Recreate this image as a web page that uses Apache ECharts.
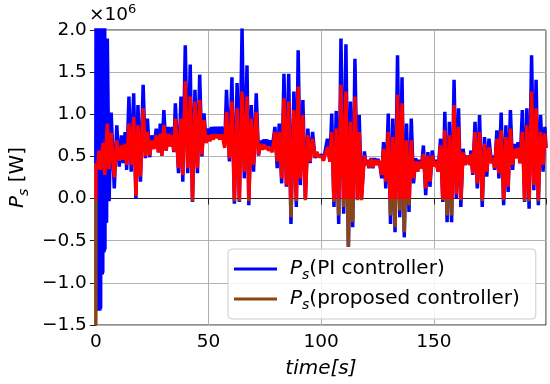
<!DOCTYPE html>
<html>
<head>
<meta charset="utf-8">
<script src="https://cdn.jsdelivr.net/npm/echarts@6/dist/echarts.min.js"></script>
<style>
html,body{margin:0;padding:0;background:#fff;}
#chart{width:550px;height:384px;}
</style>
</head>
<body>
<div id="chart"></div>
<script>
// values in units of 1e6 W
// initial transient of the PI controller (dense oscillation)
const tInitBlue = [0.00,0.10,0.22,0.34,0.46,0.58,0.70,0.82,0.94,1.06,1.18,1.30,1.42,1.54,1.66,1.78,1.90,2.02,2.14,2.26,
  2.38,2.50,2.62,2.74,2.86,2.98,3.10,3.22,3.34,3.46,3.58,3.70,3.82,3.94,4.06,4.18,4.30,4.42,4.54,4.66,4.78];
const blueInit = [0.40,2.30,-1.00,2.40,-1.33,2.40,-1.33,2.40,-1.33,2.40,-1.33,2.40,-1.33,2.40,-1.33,2.40,-1.32,2.40,-1.30,2.40,
  -0.90,2.40,-0.90,2.30,-0.90,2.30,-0.88,2.20,-0.64,2.20,-0.64,2.10,-0.62,2.05,-0.60,1.43,-0.29,1.43,-0.29,1.40,-0.28];
const tInitRed = [0.00,0.05,0.70,1.40,2.10,3.20,4.00];
const redInit = [-1.50,0.42,0.35,0.57,0.34,0.66,0.28];

// shared extreme points after the transient
const tExt = [
  5.1,5.9,6.8,8.2,9.3,10.4,11.4,12.2,13.0,13.7,
  14.7,15.7,16.8,17.8,18.7,19.8,21.0,22.0,22.9,23.9,
  24.8,25.8,26.8,27.8,28.6,29.3,30.2,31.2,32.2,33.0,
  33.9,34.6,35.3,36.7,37.8,38.6,39.7,40.8,41.9,42.9,
  44.0,45.1,46.1,47.1,48.0,48.9,49.9,50.6,51.3,52.1,
  52.8,53.5,54.2,55.0,55.7,56.4,57.2,58.0,59.3,60.4,
  61.5,62.7,63.7,64.9,65.9,67.1,67.9,69.0,70.0,71.2,
  72.2,73.2,73.8,74.5,75.2,76.0,76.7,77.5,78.3,79.5,
  80.5,81.4,82.5,83.5,84.6,85.6,86.6,87.9,89.0,89.8,
  90.8,91.9,93.0,94.1,95.1,96.2,97.3,98.0,98.9,100.3,
  101.0,101.8,102.8,103.9,104.7,105.7,106.7,107.8,108.8,110.0,
  111.0,112.1,113.0,114.0,115.0,116.1,116.9,117.9,119.2,119.9,
  120.5,121.2,122.2,123.0,123.7,124.5,125.1,126.0,126.9,127.7,
  128.7,129.8,130.8,131.8,132.8,133.9,134.9,135.9,136.9,137.9,
  139.0,140.0,141.0,142.0,142.8,143.6,144.5,145.4,146.4,147.4,
  148.3,149.3,150.2,151.1,151.9,153.0,154.0,154.9,155.9,156.9,
  157.9,159.0,160.0,161.0,162.0,163.0,163.9,164.9,165.9,166.5,
  167.3,168.3,169.3,170.3,171.5,172.5,173.5,174.5,175.6,176.4,
  177.0,178.0,178.9,179.9,181.0,182.0,183.0,184.0,185.0,185.8,
  186.5,187.4,188.3,189.3,190.3,191.3,192.3,193.4,194.4,195.4,
  196.4,197.4,198.5,199.3,199.8];
const blueExt = [
  1.90,-0.03,1.02,0.12,0.87,0.38,0.75,0.42,0.79,0.34,
  1.21,0.32,1.25,0.00,1.11,0.20,1.35,0.48,0.95,0.49,
  0.75,0.59,0.83,0.55,0.89,0.51,1.05,0.57,0.85,0.62,
  0.85,0.55,1.13,0.30,1.21,0.20,1.82,0.30,1.59,-0.04,
  1.29,0.30,1.47,0.50,1.01,0.69,0.83,0.71,0.85,0.75,
  0.85,0.77,0.85,0.75,0.85,0.80,0.63,1.29,0.44,1.44,
  -0.06,1.37,-0.04,2.02,0.24,1.58,-0.08,1.11,0.32,1.25,
  0.51,0.69,0.62,0.70,0.63,0.70,0.62,0.69,0.60,0.85,
  0.36,0.89,0.18,1.48,0.14,1.48,-0.30,1.27,-0.10,1.76,
  0.16,1.17,0.00,0.83,0.42,0.79,0.48,0.55,0.50,0.52,
  0.45,0.44,0.71,0.44,1.01,-0.10,1.04,-0.30,1.90,-0.18,
  1.83,-0.57,1.15,-0.34,1.66,0.00,0.99,0.00,0.56,0.40,
  0.46,0.36,0.48,0.36,0.48,0.40,0.47,0.42,0.24,0.67,
  0.12,1.01,-0.30,0.95,-0.40,1.70,-0.22,1.44,-0.46,0.89,
  -0.16,0.95,0.18,0.48,0.32,0.46,0.36,0.63,0.04,0.55,
  0.14,0.57,0.38,0.46,0.32,0.71,-0.04,1.03,-0.28,0.91,
  -0.28,1.41,0.00,1.07,-0.10,0.59,0.40,0.51,0.40,0.57,
  0.28,0.91,0.12,0.99,-0.10,0.73,0.26,0.71,0.42,0.51,
  0.34,0.81,0.24,1.02,-0.08,0.87,0.08,1.05,0.34,0.65,
  0.48,0.67,0.42,1.05,-0.04,1.07,-0.12,1.70,0.10,1.41,
  -0.08,0.99,0.32,0.85,0.60];
const redExt = [
  0.89,0.35,0.78,0.25,0.69,0.45,0.63,0.46,0.65,0.40,
  0.89,0.40,0.97,0.03,0.87,0.26,1.07,0.50,0.79,0.51,
  0.69,0.59,0.75,0.55,0.77,0.51,0.87,0.57,0.77,0.62,
  0.75,0.56,0.95,0.36,0.95,0.28,1.39,0.36,1.21,-0.03,
  1.15,0.36,1.17,0.52,0.93,0.66,0.75,0.68,0.76,0.70,
  0.76,0.72,0.76,0.70,0.76,0.72,0.60,1.03,0.48,1.15,
  -0.03,1.07,-0.03,1.27,0.32,1.21,-0.03,0.95,0.40,1.03,
  0.52,0.65,0.58,0.64,0.59,0.62,0.57,0.60,0.55,0.79,
  0.44,0.79,0.24,1.19,0.16,1.15,-0.22,1.05,-0.03,1.33,
  0.24,0.99,-0.02,0.75,0.44,0.71,0.49,0.55,0.50,0.50,
  0.45,0.44,0.61,0.44,0.79,-0.04,0.83,-0.20,1.35,-0.10,
  1.27,-0.57,0.91,-0.28,1.21,-0.02,0.79,-0.02,0.51,0.40,
  0.45,0.37,0.47,0.37,0.46,0.40,0.45,0.42,0.28,0.59,
  0.20,0.79,-0.20,0.73,-0.34,1.23,-0.14,1.13,-0.40,0.69,
  -0.08,0.69,0.24,0.44,0.32,0.44,0.36,0.53,0.12,0.51,
  0.20,0.51,0.38,0.44,0.32,0.63,-0.02,0.81,-0.20,0.75,
  -0.20,1.11,0.05,0.85,-0.02,0.55,0.40,0.50,0.40,0.53,
  0.30,0.79,0.18,0.79,-0.03,0.65,0.32,0.61,0.42,0.48,
  0.36,0.71,0.30,0.81,-0.02,0.73,0.14,0.83,0.40,0.59,
  0.48,0.60,0.42,0.79,-0.03,0.87,-0.03,1.27,0.16,1.07,
  -0.03,0.79,0.40,0.77,0.60];

const xTicks = [0,50,100,150];
const seriesNames = ['PI controller','proposed controller'];

const BLUE = '#0000ff', RED = '#ff0000', BROWN = '#8b4513';
const FONT = 'DejaVu Sans';

const blueData = tInitBlue.map((t,i)=>[t, blueInit[i]]).concat(tExt.map((t,i)=>[t, blueExt[i]]));
const redData = tInitRed.map((t,i)=>[t, redInit[i]]).concat(tExt.map((t,i)=>[t, redExt[i]]));

const richPs = {
  p:{fontFamily:FONT,fontStyle:'italic',fontSize:20,lineHeight:26,color:'#000'},
  s:{fontFamily:FONT,fontStyle:'italic',fontSize:14,lineHeight:10,verticalAlign:'bottom',color:'#000'},
  t:{fontFamily:FONT,fontSize:20,lineHeight:26,color:'#000'}
};

const chart = echarts.init(document.getElementById('chart'), null, {renderer:'canvas'});
const option = {
  animation:false,
  backgroundColor:'#fff',
  grid:{left:89,right:4,top:30,bottom:58,show:true,borderColor:'#222',borderWidth:1,backgroundColor:'transparent'},
  xAxis:{
    type:'value',min:0,max:199.8,interval:50,
    name:'time[s]',nameLocation:'middle',nameGap:34,
    nameTextStyle:{fontFamily:FONT,fontStyle:'italic',fontSize:20,color:'#000'},
    axisLine:{show:true,lineStyle:{color:'#222',width:1}},
    axisTick:{show:true,length:6,lineStyle:{color:'#222'}},
    axisLabel:{fontFamily:FONT,fontSize:18.5,color:'#000',margin:8,
      formatter:v=> (xTicks.indexOf(v)>=0 ? String(v) : '')},
    splitLine:{show:true,lineStyle:{color:'#b0b0b0',width:1}}
  },
  yAxis:{
    type:'value',min:-1.5,max:2.0,interval:0.5,
    name:'{p|P}{s|s}{t| [W]}',nameLocation:'middle',nameGap:62,nameRotate:90,
    nameTextStyle:{rich:richPs},
    axisLine:{show:true,lineStyle:{color:'#222',width:1}},
    axisTick:{show:true,length:6,lineStyle:{color:'#222'}},
    axisLabel:{fontFamily:FONT,fontSize:18.5,color:'#000',margin:9,
      formatter:v=>(v<0?'\u2212':'')+Math.abs(v).toFixed(1)},
    splitLine:{show:true,lineStyle:{color:'#b0b0b0',width:1}}
  },
  legend:{
    orient:'vertical',left:228,top:249,
    backgroundColor:'rgba(255,255,255,0.85)',borderColor:'#cccccc',borderWidth:1,borderRadius:4,
    padding:[10,16,7,6],itemGap:7,itemWidth:43,itemHeight:3,icon:'rect',
    data:[{name:seriesNames[0],itemStyle:{color:BLUE}},{name:seriesNames[1],itemStyle:{color:BROWN}}],
    formatter:n=>'{p|P}{s|s}{t|('+n+')}',
    textStyle:{padding:[0,0,0,8],rich:richPs}
  },
  graphic:[{
    type:'text',left:89,top:3,
    style:{text:'{a|\u00d710}{b|6}',rich:{
      a:{fontFamily:FONT,fontSize:18.5,lineHeight:24,color:'#000'},
      b:{fontFamily:FONT,fontSize:13,lineHeight:14,verticalAlign:'top',color:'#000'}}}
  }],
  series:[
    {name:seriesNames[0],type:'line',data:blueData,symbol:'none',
      lineStyle:{color:BLUE,width:3.5},itemStyle:{color:BLUE},z:2},
    {name:seriesNames[1],type:'line',data:redData,symbol:'none',
      lineStyle:{color:RED,width:3.5},itemStyle:{color:BROWN},z:3}
  ]
};
chart.setOption(option);
// colour the proposed-controller line brown below zero, red above
const yTop = chart.convertToPixel({yAxisIndex:0}, 2.0);
const yBot = chart.convertToPixel({yAxisIndex:0}, -1.5);
const yZero = chart.convertToPixel({yAxisIndex:0}, 0);
const f = (yZero - yTop) / (yBot - yTop);
chart.setOption({series:[{},{lineStyle:{color:new echarts.graphic.LinearGradient(0, yTop, 0, yBot, [
  {offset:0,color:RED},{offset:f,color:RED},{offset:f,color:BROWN},{offset:1,color:BROWN}], true)}}]});
</script>
</body>
</html>
